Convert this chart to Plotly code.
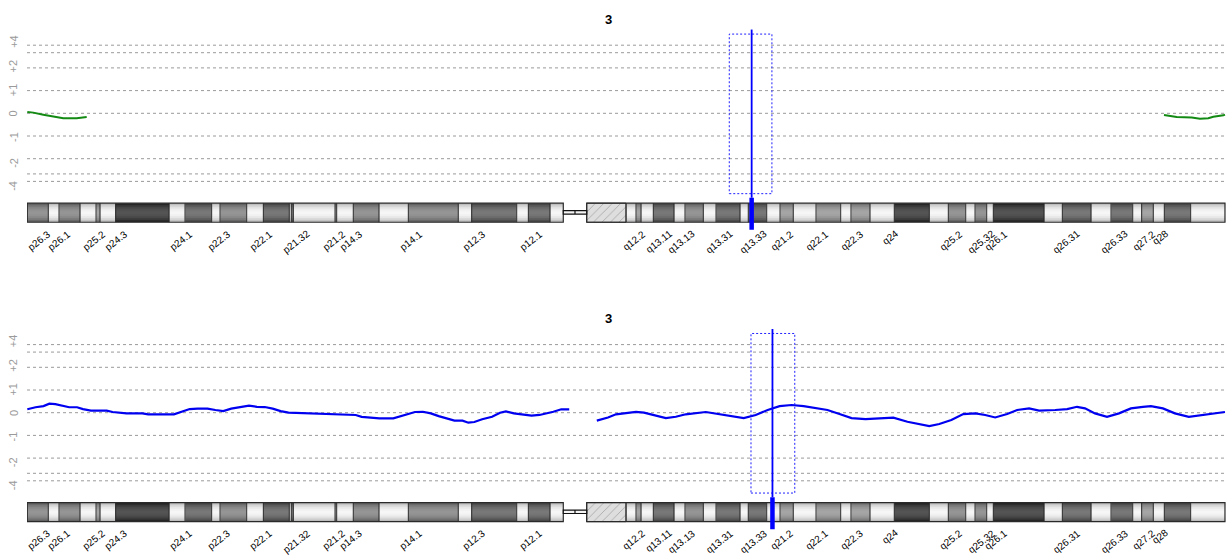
import plotly.graph_objects as go

# ---------------- data ----------------
CHROM_LEN = 198.0  # Mb, chromosome 3

band_edges = [0, 3.47, 5.24, 8.71, 11.36, 12.02, 14.61, 23.43, 26.07, 30.48,
              31.86, 36.27, 39.02, 43.31, 43.64, 43.98, 50.87, 51.15, 53.89, 58.14,
              62.99, 71.25, 73.47, 80.91, 82.83, 86.41, 88.61, 92.48, 98.98, 100.63,
              101.46, 103.49, 106.91, 108.73, 111.76, 113.86, 117.82, 119.19, 122.24, 124.44,
              126.63, 130.39, 134.47, 136.17, 139.31, 143.33, 149.12, 152.26, 155.14, 156.68,
              158.61, 159.70, 168.08, 171.11, 175.85, 179.16, 182.75, 184.23, 186.15, 187.97,
              192.33, 198.0]
band_stain = ["gpos50", "gneg", "gpos50", "gneg", "gpos25", "gneg", "gpos100", "gneg", "gpos75", "gneg",
              "gpos50", "gneg", "gpos75", "gneg", "gpos75", "gneg", "gpos75", "gneg", "gpos50", "gneg",
              "gpos50", "gneg", "gpos75", "gneg", "gpos75", "gneg", "acen", "gvar", "gneg", "gpos25",
              "gneg", "gpos75", "gneg", "gpos50", "gneg", "gpos75", "gneg", "gpos75", "gneg", "gpos25",
              "gneg", "gpos25", "gneg", "gpos25", "gneg", "gpos100", "gneg", "gpos50", "gneg", "gpos50",
              "gneg", "gpos100", "gneg", "gpos75", "gneg", "gpos75", "gneg", "gpos25", "gneg", "gpos75",
              "gneg"]

band_labels = ["p26.3", "p26.1", "p25.2", "p24.3", "p24.1", "p22.3", "p22.1", "p21.32", "p21.2", "p14.3",
               "p14.1", "p12.3", "p12.1", "q12.2", "q13.11", "q13.13", "q13.31", "q13.33", "q21.2", "q22.1",
               "q22.3", "q24", "q25.2", "q25.32", "q26.1", "q26.31", "q26.33", "q27.2", "q28"]
label_pos = [4.58, 7.89, 13.67, 17.31, 28.05, 34.34, 41.28, 47.56, 53.35, 56.16,
             66.08, 76.49, 85.92, 102.94, 107.41, 111.21, 117.49, 123.11, 127.41, 133.20,
             138.98, 144.77, 155.35, 160.81, 162.79, 174.86, 182.79, 187.26, 189.41]

# top panel (green) smoothed profile
green_left_x = [0.0, 0.99, 2.65, 4.30, 5.95, 8.17, 9.82]
green_left_y = [0.06, 0.03, -0.06, -0.15, -0.22, -0.22, -0.16]
green_right_x = [187.92, 188.92, 190.02, 192.50, 193.87, 195.24, 196.07, 197.73, 198.0]
green_right_y = [-0.07, -0.12, -0.16, -0.18, -0.24, -0.22, -0.15, -0.09, -0.06]

# bottom panel (blue) smoothed profile, p arm and q arm
blue_p_x = [0.0, 1.37, 2.68, 3.65, 4.63, 5.94, 6.93, 8.23, 9.21, 10.51,
            13.13, 14.10, 15.09, 16.40, 19.01, 19.99, 24.24, 25.54, 26.85, 28.15,
            29.79, 31.10, 32.40, 33.71, 35.01, 36.65, 37.96, 39.26, 40.57, 41.88,
            43.18, 45.79, 50.37, 54.29, 55.28, 56.90, 58.21, 60.51, 61.48, 62.79,
            64.09, 65.40, 66.71, 68.01, 69.32, 70.62, 71.95, 72.92, 73.90, 75.20,
            76.84, 78.15, 79.12, 80.43, 81.73, 83.37, 84.68, 85.98, 86.97, 88.28,
            89.59]
blue_p_y = [0.15, 0.24, 0.29, 0.40, 0.38, 0.29, 0.24, 0.24, 0.16, 0.09,
            0.09, 0.03, 0.00, -0.03, -0.03, -0.07, -0.07, 0.03, 0.16, 0.18,
            0.18, 0.12, 0.07, 0.18, 0.25, 0.31, 0.26, 0.25, 0.18, 0.07,
            0.00, -0.03, -0.07, -0.10, -0.18, -0.21, -0.25, -0.25, -0.18, -0.06,
            0.03, 0.04, -0.03, -0.15, -0.26, -0.35, -0.35, -0.44, -0.41, -0.29,
            -0.18, 0.00, 0.06, -0.03, -0.07, -0.13, -0.10, -0.03, 0.04, 0.15,
            0.15]
blue_q_x = [94.15, 96.00, 97.32, 98.98, 100.63, 101.95, 103.28, 105.57, 107.21, 108.86,
            112.17, 114.48, 116.45, 118.44, 120.42, 122.40, 124.37, 126.35, 128.34, 130.32,
            132.29, 134.27, 136.26, 138.57, 140.87, 143.18, 145.50, 147.48, 149.12, 150.77,
            152.76, 154.74, 156.71, 158.36, 160.01, 161.99, 163.65, 165.62, 167.27, 169.92,
            171.90, 173.54, 174.86, 176.51, 178.50, 180.48, 182.45, 184.43, 185.75, 187.74,
            189.72, 192.02, 194.33, 196.32, 198.0]
blue_q_y = [-0.35, -0.21, -0.07, 0.00, 0.04, 0.00, -0.10, -0.24, -0.18, -0.07,
            0.03, -0.06, -0.15, -0.24, -0.10, 0.12, 0.29, 0.34, 0.29, 0.19,
            0.12, -0.06, -0.24, -0.28, -0.25, -0.22, -0.40, -0.50, -0.59, -0.50,
            -0.32, -0.06, -0.03, -0.10, -0.21, -0.06, 0.12, 0.19, 0.09, 0.12,
            0.16, 0.26, 0.19, -0.03, -0.18, -0.03, 0.19, 0.26, 0.29, 0.19,
            -0.03, -0.18, -0.10, -0.03, 0.03]

grid_levels = [3.0, 2.67, 2.0, 1.0, 0.0, -1.0, -2.0, -2.67, -3.0]
tick_text = ["+4", "+2", "+1", "0", "-1", "-2", "-4"]
tick_pos = [3.16, 2.08, 1.03, 0.0, -1.03, -2.17, -3.18]

marker_pos = [119.75, 123.19]
window_start = [116.05, 119.64]
window_end = [123.10, 126.88]
panel_title = "3"

# ---------------- styling / layout constants ----------------
W, H = 1226, 555
ML = 27
PX_PER_UNIT = 22.7
ZERO_PX = [113.3, 412.7]          # pixel row of value 0 in each panel
DOM_TOP_OFF, DOM_BOT_OFF = 88.3, 121.7  # pixel distance above / below zero line
Y_RANGE = [-DOM_BOT_OFF / PX_PER_UNIT, DOM_TOP_OFF / PX_PER_UNIT]
X_RANGE = [-0.05, 198.17]

IDEO_TOP, IDEO_BOT = -3.96, -4.80
ACEN_TOP, ACEN_BOT = -4.29, -4.44
LABEL_Y = -4.93
MARK_TOP, MARK_MID, MARK_BOT = 3.69, -3.72, -5.13
BOX_TOP, BOX_BOT = 3.49, -3.54

STAIN_GRAY = {"gneg": 244, "gpos25": 140, "gpos50": 120, "gpos75": 82, "gpos100": 36}
NROWS = 10

line_colors = ["#138a13", "#0000f0"]

fig = go.Figure()
shapes = []
annotations = []

# ideogram shading matrix (vertical gradient per band)
y_edges = [IDEO_BOT + (IDEO_TOP - IDEO_BOT) * i / NROWS for i in range(NROWS + 1)]
z = []
for r in range(NROWS):
    t = (r + 0.5) / NROWS
    shade = 1 - abs(2 * t - 1) ** 2.2
    row = []
    for s in band_stain:
        if s in STAIN_GRAY:
            b = STAIN_GRAY[s]
            v = b * (0.72 + 0.28 * shade) + (255 - b) * 0.22 * shade
            row.append(min(255, v))
        else:
            row.append(None)
    z.append(row)

for k in range(2):
    xa = "x" if k == 0 else "x2"
    ya = "y" if k == 0 else "y2"

    # gridlines
    for lv in grid_levels:
        shapes.append(dict(type="line", xref="paper", yref=ya, x0=0, x1=1, y0=lv, y1=lv,
                           line=dict(color="#9a9a9a", width=1, dash="3px,3px"), layer="below"))

    # ideogram bands
    fig.add_trace(go.Heatmap(x=band_edges, y=y_edges, z=z, xaxis=xa, yaxis=ya,
                             colorscale=[[0, "rgb(0,0,0)"], [1, "rgb(255,255,255)"]],
                             zmin=0, zmax=255, showscale=False, hoverinfo="skip"))
    # gvar (hatched) region
    gi = band_stain.index("gvar")
    g0, g1 = band_edges[gi], band_edges[gi + 1]
    fig.add_trace(go.Bar(x=[(g0 + g1) / 2], y=[IDEO_TOP - IDEO_BOT], base=[IDEO_BOT],
                         width=[g1 - g0], xaxis=xa, yaxis=ya, showlegend=False,
                         hoverinfo="skip",
                         marker=dict(color="#dedede", line=dict(color="#333", width=1),
                                     pattern=dict(shape="/", fgcolor="#777", size=6, solidity=0.15))))
    # band separators
    for i, e in enumerate(band_edges[1:-1], start=1):
        if band_stain[i - 1] == "acen" or band_stain[i] == "acen":
            continue
        shapes.append(dict(type="line", xref=xa, yref=ya, x0=e, x1=e, y0=IDEO_BOT, y1=IDEO_TOP,
                           line=dict(color="#2a2a2a", width=1)))
    ai = band_stain.index("acen")
    a0, a1 = band_edges[ai], band_edges[ai + 1]
    shapes.append(dict(type="rect", xref=xa, yref=ya, x0=0, x1=a0, y0=IDEO_BOT, y1=IDEO_TOP,
                       line=dict(color="#2a2a2a", width=1.2)))
    shapes.append(dict(type="rect", xref=xa, yref=ya, x0=a1, x1=CHROM_LEN, y0=IDEO_BOT, y1=IDEO_TOP,
                       line=dict(color="#2a2a2a", width=1.2)))
    shapes.append(dict(type="rect", xref=xa, yref=ya, x0=a0, x1=a1, y0=ACEN_BOT, y1=ACEN_TOP,
                       fillcolor="#f4f4f4", line=dict(color="#111", width=1.2)))
    shapes.append(dict(type="line", xref=xa, yref=ya, x0=(a0 + a1) / 2, x1=(a0 + a1) / 2,
                       y0=ACEN_BOT, y1=ACEN_TOP, line=dict(color="#111", width=1.2)))

    # band labels
    for name, pos in zip(band_labels, label_pos):
        annotations.append(dict(text=name, x=pos, y=LABEL_Y, xref=xa, yref=ya, showarrow=False,
                                textangle=-38, xanchor="right", yanchor="top",
                                font=dict(family="Liberation Sans, Arial", size=10, color="#000")))

    # profiles
    if k == 0:
        fig.add_trace(go.Scatter(x=green_left_x + [None] + green_right_x,
                                 y=green_left_y + [None] + green_right_y,
                                 mode="lines", line=dict(color=line_colors[0], width=2),
                                 xaxis=xa, yaxis=ya, showlegend=False, connectgaps=False))
    else:
        fig.add_trace(go.Scatter(x=blue_p_x + [None] + blue_q_x,
                                 y=blue_p_y + [None] + blue_q_y,
                                 mode="lines", line=dict(color=line_colors[1], width=2.2),
                                 xaxis=xa, yaxis=ya, showlegend=False, connectgaps=False))

    # position marker + window
    m = marker_pos[k]
    shapes.append(dict(type="rect", xref=xa, yref=ya, x0=window_start[k], x1=window_end[k],
                       y0=BOX_BOT, y1=BOX_TOP, line=dict(color="#2020ff", width=1, dash="2px,2px")))
    shapes.append(dict(type="line", xref=xa, yref=ya, x0=m, x1=m, y0=MARK_MID, y1=MARK_TOP,
                       line=dict(color="#0000ff", width=1.8)))
    shapes.append(dict(type="line", xref=xa, yref=ya, x0=m, x1=m, y0=MARK_BOT, y1=MARK_MID,
                       line=dict(color="#0000ff", width=4.5)))

    # y tick labels
    zero_px = ZERO_PX[k]
    for txt, tp in zip(tick_text, tick_pos):
        annotations.append(dict(text=txt, x=(13.3 - ML) / (W - ML), y=tp, xref="paper", yref=ya,
                                showarrow=False, textangle=-90, xanchor="center", yanchor="middle",
                                font=dict(family="Liberation Sans, Arial", size=11, color="#9a9a9a")))
    # title
    annotations.append(dict(text="<b>" + panel_title + "</b>", x=(608 - ML) / (W - ML),
                            y=1 - (zero_px - 94.0) / H, xref="paper", yref="paper", showarrow=False,
                            xanchor="center", yanchor="middle",
                            font=dict(family="Liberation Sans, Arial", size=13, color="#000")))


def dom(zero_px):
    return [1 - (zero_px + DOM_BOT_OFF) / H, 1 - (zero_px - DOM_TOP_OFF) / H]


axis_common = dict(visible=False, showgrid=False, zeroline=False, fixedrange=True)
fig.update_layout(
    width=W, height=H, autosize=False,
    margin=dict(l=ML, r=0, t=0, b=0, pad=0),
    paper_bgcolor="white", plot_bgcolor="rgba(0,0,0,0)",
    showlegend=False, barmode="overlay",
    xaxis=dict(domain=[0, 1], range=X_RANGE, anchor="y", **axis_common),
    xaxis2=dict(domain=[0, 1], range=X_RANGE, anchor="y2", **axis_common),
    yaxis=dict(domain=dom(ZERO_PX[0]), range=Y_RANGE, anchor="x", **axis_common),
    yaxis2=dict(domain=dom(ZERO_PX[1]), range=Y_RANGE, anchor="x2", **axis_common),
    shapes=shapes, annotations=annotations,
)

fig.write_html("out.html", config={"displayModeBar": False},
               post_script="document.body.style.margin='0px';")
